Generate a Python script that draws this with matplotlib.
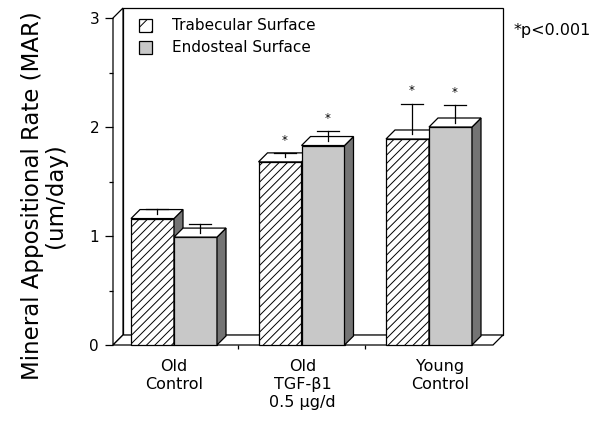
import numpy as np
import matplotlib
matplotlib.use('Agg')
from matplotlib import pyplot as plt
from matplotlib.patches import Polygon, Rectangle

# data
groups = ['Old\nControl', 'Old\nTGF-\u03b21\n0.5 \u03bcg/d', 'Young\nControl']
trabecular = [1.16, 1.68, 1.89]
trabecular_err = [0.05, 0.04, 0.28]
endosteal = [0.99, 1.83, 2.00]
endosteal_err = [0.08, 0.09, 0.16]
trabecular_sig = [False, True, True]
endosteal_sig = [False, True, True]
series_names = ['Trabecular Surface', 'Endosteal Surface']

plt.rcParams['font.family'] = 'DejaVu Sans'
plt.rcParams['hatch.linewidth'] = 0.7

fig = plt.figure(figsize=(6.02, 4.21), dpi=100)
ax = fig.add_axes([113/602, 1 - 345/421, 390/602, 338/421])

# x unit = group spacing (127.5 px), y unit = 109 px
xpx, ypx = 127.5, 109.0
x0 = -(174 - 113) / xpx
xR = (503 - 174) / xpx
ax.set_xlim(x0, xR)
ax.set_ylim(0, 338 / ypx)
ymax = 3

dxw, dyw = 10 / xpx, 10 / ypx   # wall depth
dxb, dyb = 9 / xpx, 9 / ypx     # bar depth
w = 43 / xpx

for s in ax.spines.values():
    s.set_visible(False)

edge = dict(edgecolor='black', linewidth=0.9, clip_on=False)

# back wall, side wall, floor
ax.add_patch(Rectangle((x0 + dxw, dyw), xR - x0 - dxw, ymax, facecolor='white', zorder=1, **edge))
ax.add_patch(Polygon([(x0, 0), (x0, ymax), (x0 + dxw, ymax + dyw), (x0 + dxw, dyw)],
                     facecolor='white', zorder=1, **edge))
ax.add_patch(Polygon([(x0, 0), (xR - dxw, 0), (xR, dyw), (x0 + dxw, dyw)],
                     facecolor='white', zorder=1, **edge))


def bar3d(left, v, face, hatch=None):
    ax.add_patch(Rectangle((left, 0), w, v, facecolor=face, hatch=hatch, zorder=3, **edge))
    ax.add_patch(Polygon([(left + w, 0), (left + w + dxb, dyb), (left + w + dxb, v + dyb), (left + w, v)],
                         facecolor='#747474', zorder=3, **edge))
    ax.add_patch(Polygon([(left, v), (left + w, v), (left + w + dxb, v + dyb), (left + dxb, v + dyb)],
                         facecolor='white', zorder=3, **edge))


def errbar(left, v, err, sig):
    xc = left + w / 2 + dxb / 2
    yb = v + dyb / 2
    ax.plot([xc, xc], [yb, yb + err], color='black', lw=0.9, zorder=4, clip_on=False)
    ax.plot([xc - 11 / xpx, xc + 11 / xpx], [yb + err] * 2, color='black', lw=0.9, zorder=4, clip_on=False)
    if sig:
        ax.text(xc, yb + err + 13 / ypx, '*', ha='center', va='center', fontsize=8.5, zorder=4)


for i in range(len(groups)):
    bar3d(i - w, trabecular[i], 'white', hatch='////')
    errbar(i - w, trabecular[i], trabecular_err[i], trabecular_sig[i])
    bar3d(i, endosteal[i], '#c8c8c8')
    errbar(i, endosteal[i], endosteal_err[i], endosteal_sig[i])

# ticks
ax.set_yticks([0, 1, 2, 3])
ax.set_yticks([0.5, 1.5, 2.5], minor=True)
ax.set_xticks([0.5, 1.5])
ax.set_xticklabels([])
ax.tick_params(axis='y', which='major', length=6, width=0.9, pad=4, labelsize=11)
ax.tick_params(axis='y', which='minor', length=3, width=0.9)
ax.tick_params(axis='x', which='major', length=3, width=0.9)

# group labels
nudge = [0, 0.01, 0.09]
for i, g in enumerate(groups):
    ax.text(i + nudge[i], -14 / 338, g, transform=ax.get_xaxis_transform(),
            ha='center', va='top', fontsize=11.5, linespacing=1.25)

# legend
ax.add_patch(Rectangle((26 / 390, 313 / 338), 13 / 390, 13 / 338, transform=ax.transAxes,
                       facecolor='white', hatch='//', zorder=5, **edge))
ax.add_patch(Rectangle((26 / 390, 291 / 338), 13 / 390, 13 / 338, transform=ax.transAxes,
                       facecolor='#c8c8c8', zorder=5, **edge))
ax.text(59 / 390, 319 / 338, series_names[0], transform=ax.transAxes, va='center', fontsize=11)
ax.text(59 / 390, 297 / 338, series_names[1], transform=ax.transAxes, va='center', fontsize=11)

fig.text(514 / 602, 1 - 30 / 421, '*p<0.001', ha='left', va='center', fontsize=11.5)
fig.text(44 / 602, 1 - 196 / 421, 'Mineral Appositional Rate (MAR)\n(um/day)',
         rotation=90, ha='center', va='center', ma='center', fontsize=16.5, linespacing=1.05)

fig.savefig('out.png', dpi=100)
